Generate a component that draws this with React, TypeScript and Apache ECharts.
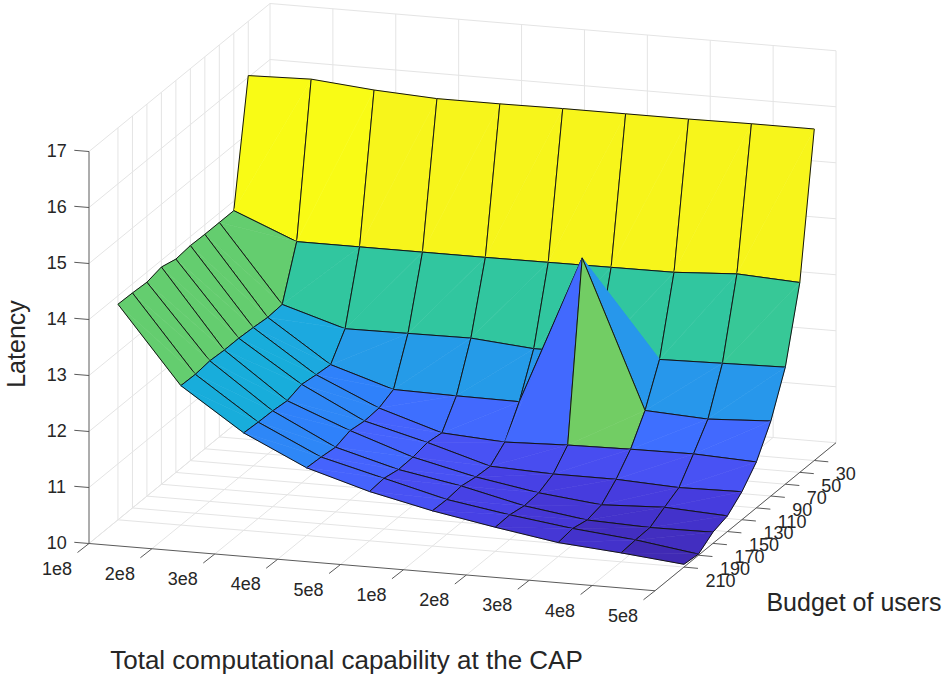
import React, { useEffect, useRef } from "react";
import * as echarts from "echarts";

const capabilityLabels = ["1e8", "2e8", "3e8", "4e8", "5e8", "1e8", "2e8", "3e8", "4e8", "5e8"];
const budgets = [30, 50, 70, 90, 110, 130, 150, 170, 190, 210];
const latencyTicks = [10, 11, 12, 13, 14, 15, 16, 17];

const latency30 = [16.03, 16.06, 15.96, 15.9, 15.9, 15.91, 15.91, 15.91, 15.92, 15.92];
const latency50 = [13.83, 13.37, 13.37, 13.37, 13.37, 13.375, 13.38, 13.385, 13.45, 13.39];
const latency70 = [13.83, 12.46, 12.12, 12.13, 12.14, 12.045, 12.05, 12.04, 12.065, 12.09];
const latency90 = [13.83, 12.44, 11.69, 11.34, 11.32, 11.31, 13.97, 11.34, 11.28, 11.34];
const latency110 = [13.84, 12.47, 11.72, 11.22, 10.87, 10.8, 10.84, 10.86, 10.87, 10.82];
const latency130 = [13.81, 12.49, 11.76, 11.2, 10.91, 10.58, 10.535, 10.534, 10.48, 10.5];
const latency150 = [13.88, 12.49, 11.68, 11.24, 10.86, 10.6, 10.41, 10.29, 10.34, 10.28];
const latency170 = [13.82, 12.51, 11.71, 11.155, 10.85, 10.65, 10.39, 10.23, 10.19, 10.2];
const latency190 = [13.84, 12.48, 11.72, 11.19, 10.905, 10.62, 10.44, 10.29, 10.18, 10.02];
const latency210 = [13.85, 12.49, 11.74, 11.21, 10.88, 10.63, 10.43, 10.25, 10.16, 10.05];
const latency = [latency30, latency50, latency70, latency90, latency110, latency130, latency150, latency170, latency190, latency210];

const parula = [
  [0.2422, 0.1504, 0.6603], [0.2504, 0.165, 0.7076], [0.2578, 0.1818, 0.7511], [0.2647, 0.1978, 0.7952],
  [0.2706, 0.2147, 0.8364], [0.2751, 0.2342, 0.871], [0.2783, 0.2559, 0.8991], [0.2803, 0.2782, 0.9221],
  [0.2813, 0.3006, 0.9414], [0.281, 0.3228, 0.9579], [0.2795, 0.3447, 0.9717], [0.276, 0.3667, 0.9829],
  [0.2699, 0.3892, 0.9906], [0.2602, 0.4123, 0.9952], [0.244, 0.4358, 0.9988], [0.2206, 0.4603, 0.9973],
  [0.1963, 0.4847, 0.9892], [0.1834, 0.5074, 0.9798], [0.1786, 0.5289, 0.9682], [0.1764, 0.5499, 0.952],
  [0.1687, 0.5703, 0.9359], [0.154, 0.5902, 0.9218], [0.146, 0.6091, 0.9079], [0.138, 0.6276, 0.8973],
  [0.1248, 0.6459, 0.8883], [0.1113, 0.6635, 0.8763], [0.0952, 0.6798, 0.8598], [0.0689, 0.6948, 0.8394],
  [0.0297, 0.7082, 0.8163], [0.0036, 0.7203, 0.7917], [0.0067, 0.7312, 0.766], [0.0433, 0.7411, 0.7394],
  [0.0964, 0.75, 0.712], [0.1408, 0.7584, 0.6842], [0.1717, 0.767, 0.6554], [0.1938, 0.7758, 0.6251],
  [0.2161, 0.7843, 0.5923], [0.247, 0.7918, 0.5567], [0.2906, 0.7973, 0.5188], [0.3406, 0.8008, 0.4789],
  [0.3909, 0.8029, 0.4354], [0.4456, 0.8024, 0.3909], [0.5044, 0.7993, 0.348], [0.5616, 0.7942, 0.3045],
  [0.6174, 0.7876, 0.2612], [0.672, 0.7793, 0.2227], [0.7242, 0.7698, 0.191], [0.7738, 0.7598, 0.1646],
  [0.8203, 0.7498, 0.1535], [0.8634, 0.7406, 0.1596], [0.9035, 0.733, 0.1774], [0.9393, 0.7288, 0.21],
  [0.9728, 0.7298, 0.2394], [0.9956, 0.7434, 0.2371], [0.997, 0.7659, 0.2199], [0.9952, 0.7893, 0.2028],
  [0.9892, 0.8136, 0.1885], [0.9785, 0.8397, 0.1779], [0.9678, 0.8659, 0.1764], [0.9611, 0.8903, 0.1528],
  [0.9595, 0.9135, 0.1423], [0.9631, 0.9375, 0.1221], [0.9691, 0.9606, 0.1064], [0.9769, 0.9839, 0.0805],
];

const FONT = '"Liberation Sans", Helvetica, Arial, sans-serif';
const TEXT = "#262626";
const AXIS = "#5a5a5a";
const GRID = "#e4e4e4";
const EDGE = "#141414";
const Z_MIN = 10;
const Z_MAX = 17;
const CLIM_MIN = 10;
const CLIM_MAX = 16.06;
const BUDGET_MAX = 250;
const STEPS = capabilityLabels.length - 1;

// Orthographic projection of the 3D axes box (index along x, budget, latency) onto the plot plane.
function project(i: number, b: number, z: number): [number, number] {
  const t = (BUDGET_MAX - b) / BUDGET_MAX;
  return [89 + (566 / 9) * i + 181 * t, 543.5 + 5.25 * i - 148 * t - 56 * (z - Z_MIN)];
}

function colorOf(z: number): string {
  const t = Math.min(1, Math.max(0, (z - CLIM_MIN) / (CLIM_MAX - CLIM_MIN)));
  const c = parula[Math.min(parula.length - 1, Math.floor(t * parula.length))];
  return `rgb(${Math.round(c[0] * 255)},${Math.round(c[1] * 255)},${Math.round(c[2] * 255)})`;
}

function gridSegments(): number[][] {
  const segs: number[][] = [];
  for (const z of latencyTicks) {
    segs.push([0, BUDGET_MAX, z, 0, 0, z]);
    segs.push([0, 0, z, STEPS, 0, z]);
  }
  capabilityLabels.forEach((_, i) => {
    segs.push([i, 0, Z_MIN, i, 0, Z_MAX]);
    segs.push([i, BUDGET_MAX, Z_MIN, i, 0, Z_MIN]);
  });
  for (const b of budgets) {
    segs.push([0, b, Z_MIN, 0, b, Z_MAX]);
    segs.push([0, b, Z_MIN, STEPS, b, Z_MIN]);
  }
  return segs;
}

function axisSegments(): number[][] {
  return [
    [0, BUDGET_MAX, Z_MIN, STEPS, BUDGET_MAX, Z_MIN],
    [STEPS, BUDGET_MAX, Z_MIN, STEPS, 0, Z_MIN],
    [0, BUDGET_MAX, Z_MIN, 0, BUDGET_MAX, Z_MAX],
  ];
}

function cells(): number[][] {
  const out: number[][] = [];
  for (let j = 0; j < budgets.length - 1; j++) {
    for (let i = 0; i < STEPS; i++) out.push([i, j]);
  }
  return out;
}

export default function App() {
  const ref = useRef<HTMLDivElement>(null);

  useEffect(() => {
    document.body.style.margin = "0";
    const chart = echarts.init(ref.current!, undefined, { renderer: "svg" });

    const segmentRender = (color: string) => (_: any, api: any) => {
      const a = api.coord(project(api.value(0), api.value(1), api.value(2)));
      const b = api.coord(project(api.value(3), api.value(4), api.value(5)));
      return {
        type: "line",
        shape: { x1: a[0], y1: a[1], x2: b[0], y2: b[1] },
        style: { stroke: color, lineWidth: 1, fill: null },
      };
    };

    const surfaceRender = (_: any, api: any) => {
      const i = api.value(0);
      const j = api.value(1);
      const pt = (ii: number, jj: number) => api.coord(project(ii, budgets[jj], latency[jj][ii]));
      const p00 = pt(i, j);
      const p10 = pt(i + 1, j);
      const p11 = pt(i + 1, j + 1);
      const p01 = pt(i, j + 1);
      const fill = colorOf(latency[j][i]);
      const tri = (points: number[][]) => ({
        type: "polygon",
        shape: { points },
        style: { fill, stroke: fill, lineWidth: 0.6 },
      });
      const edge = (points: number[][]) => ({
        type: "polyline",
        shape: { points },
        style: { stroke: EDGE, lineWidth: 1, fill: null },
      });
      return {
        type: "group",
        children: [tri([p00, p10, p01]), edge([p10, p00, p01]), tri([p10, p11, p01]), edge([p10, p11, p01])],
      };
    };

    const tick = (from: number[], dx: number, dy: number, api: any) => {
      const a = api.coord(from);
      const b = api.coord([from[0] + dx, from[1] + dy]);
      return {
        type: "line",
        shape: { x1: a[0], y1: a[1], x2: b[0], y2: b[1] },
        style: { stroke: AXIS, lineWidth: 1, fill: null },
      };
    };
    const label = (text: string, at: number[], align: string, api: any) => {
      const p = api.coord(at);
      return {
        type: "text",
        style: {
          text,
          x: p[0],
          y: p[1],
          align,
          verticalAlign: "middle",
          fill: TEXT,
          font: `18px ${FONT}`,
        },
      };
    };

    chart.setOption({
      animation: false,
      backgroundColor: "#ffffff",
      tooltip: { show: false },
      grid: { left: 0, right: 0, top: 0, bottom: 0 },
      xAxis: { type: "value", min: 0, max: 944, show: false },
      yAxis: { type: "value", min: 0, max: 678, inverse: true, show: false },
      series: [
        {
          type: "custom",
          silent: true,
          clip: false,
          data: gridSegments(),
          renderItem: segmentRender(GRID),
        },
        {
          type: "custom",
          silent: true,
          clip: false,
          data: axisSegments(),
          renderItem: segmentRender(AXIS),
        },
        {
          type: "custom",
          silent: true,
          clip: false,
          data: capabilityLabels.map((_, i) => [i]),
          renderItem: (_: any, api: any) => {
            const i = api.value(0);
            const p = project(i, BUDGET_MAX, Z_MIN);
            return {
              type: "group",
              children: [
                tick(p, -11.5, 9, api),
                label(capabilityLabels[i], [p[0] - 32, p[1] + 25], "center", api),
              ],
            };
          },
        },
        {
          type: "custom",
          silent: true,
          clip: false,
          data: budgets.map((_, k) => [k]),
          renderItem: (_: any, api: any) => {
            const k = api.value(0);
            const p = project(STEPS, budgets[k], Z_MIN);
            return {
              type: "group",
              children: [
                tick(p, 14, 1.3, api),
                label(String(budgets[k]), [p[0] + 21.5, p[1] + 13.7], "left", api),
              ],
            };
          },
        },
        {
          type: "custom",
          silent: true,
          clip: false,
          data: latencyTicks.map((_, k) => [k]),
          renderItem: (_: any, api: any) => {
            const k = api.value(0);
            const p = project(0, BUDGET_MAX, latencyTicks[k]);
            return {
              type: "group",
              children: [
                tick(p, -14.7, -1.2, api),
                label(String(latencyTicks[k]), [p[0] - 32.3, p[1] - 0.5], "center", api),
              ],
            };
          },
        },
        {
          type: "custom",
          silent: true,
          clip: false,
          data: cells(),
          renderItem: surfaceRender,
        },
      ],
      graphic: [
        {
          type: "text",
          x: 346.5,
          y: 660,
          style: {
            text: "Total computational capability at the CAP",
            font: `26px ${FONT}`,
            fill: TEXT,
            align: "center",
            verticalAlign: "middle",
          },
        },
        {
          type: "text",
          x: 854,
          y: 602,
          style: {
            text: "Budget of users",
            font: `25px ${FONT}`,
            fill: TEXT,
            align: "center",
            verticalAlign: "middle",
          },
        },
        {
          type: "text",
          x: 16,
          y: 344,
          rotation: Math.PI / 2,
          style: {
            text: "Latency",
            font: `25px ${FONT}`,
            fill: TEXT,
            align: "center",
            verticalAlign: "middle",
          },
        },
      ],
    });

    return () => chart.dispose();
  }, []);

  return <div ref={ref} style={{ width: 944, height: 678, background: "#fff" }} />;
}
